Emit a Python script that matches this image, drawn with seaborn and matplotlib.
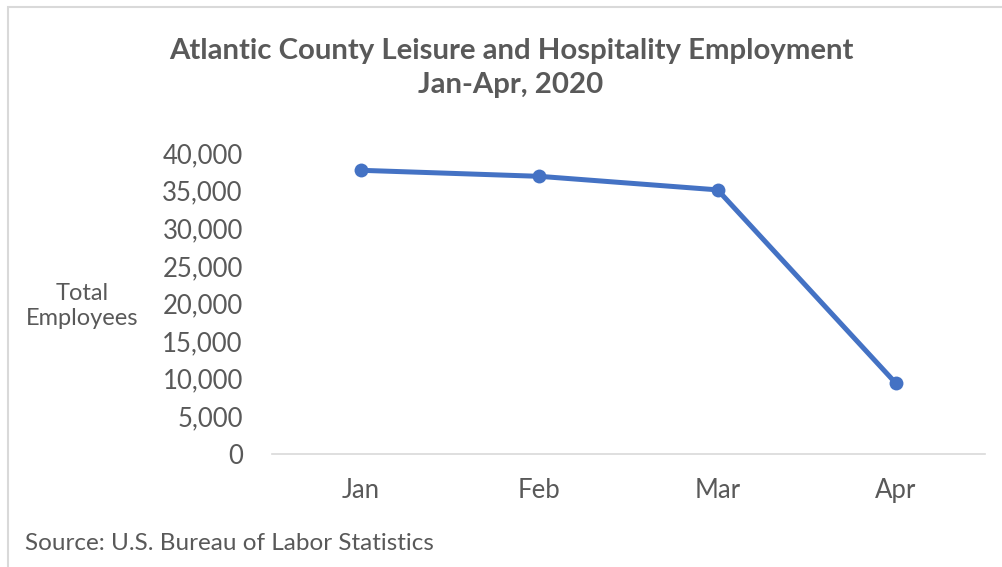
import matplotlib
matplotlib.use("Agg")
import matplotlib.pyplot as plt
import seaborn as sns
import pandas as pd
from matplotlib.ticker import FuncFormatter, MultipleLocator
from matplotlib.patches import Rectangle

months = ["Jan", "Feb", "Mar", "Apr"]
employees = [37700, 36900, 35100, 9400]
title = "Atlantic County Leisure and Hospitality Employment\nJan-Apr, 2020"
ylabel = "Total\nEmployees"
source = "Source: U.S. Bureau of Labor Statistics"

sns.set_theme(style="white")
plt.rcParams['font.family'] = ['Lato', 'DejaVu Sans']

df = pd.DataFrame({"month": months, "employees": employees})
df["x"] = range(len(months))

fig = plt.figure(figsize=(10.02, 5.67), dpi=100)
ax = fig.add_axes([272/1002, 1 - 454/567, 713/1002, 301/567])

sns.lineplot(data=df, x="x", y="employees", ax=ax, color="#4472C4",
             linewidth=3.6, marker="o", markersize=10, markeredgewidth=0)

ax.set_xlim(-0.5, 3.5)
ax.set_ylim(0, 40000)
ax.set_xticks(range(len(months)))
ax.set_xticklabels(months)
ax.yaxis.set_major_locator(MultipleLocator(5000))
ax.yaxis.set_major_formatter(FuncFormatter(lambda v, p: f"{int(v):,}"))
ax.tick_params(axis="both", length=0, labelsize=18.5, colors="#595959")
ax.tick_params(axis="x", pad=17)
ax.tick_params(axis="y", pad=21)
for s in ["top", "right", "left"]:
    ax.spines[s].set_visible(False)
ax.spines["bottom"].set_color("#D9D9D9")
ax.spines["bottom"].set_linewidth(1.2)
ax.set_xlabel("")
ax.set_ylabel("")
ax.grid(False)

fig.text(511/1002, 1 - 68/567, title, ha="center", va="center",
         fontsize=21.2, fontweight="bold", color="#595959", linespacing=1.38)
fig.text(82/1002, 1 - 306/567, ylabel, ha="center", va="center",
         fontsize=17, color="#595959", linespacing=1.25)
fig.text(25/1002, 1 - 543/567, source, ha="left", va="center",
         fontsize=17.5, color="#595959")

fig.patches.append(Rectangle((8/1002, -0.1), 1.2, 1 - 7/567 + 0.1,
                             transform=fig.transFigure, fill=False,
                             edgecolor="#D9D9D9", linewidth=1.5))

fig.savefig("out.png", dpi=100, facecolor="white")
